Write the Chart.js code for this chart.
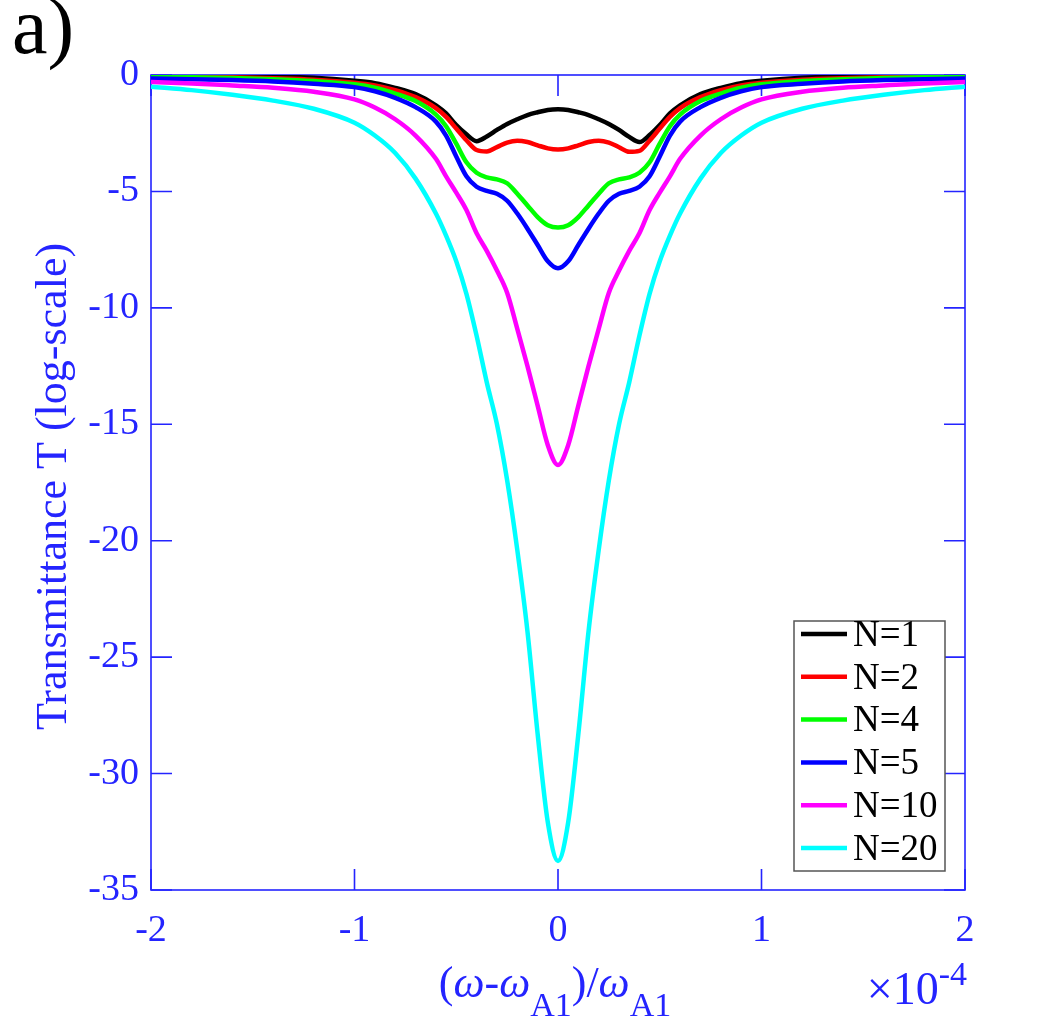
<!DOCTYPE html>
<html>
<head>
<meta charset="utf-8">
<script src="https://cdn.jsdelivr.net/npm/chart.js@4.4.0/dist/chart.umd.min.js"></script>
<style>
html,body{margin:0;padding:0;background:#ffffff;}
#wrap{width:1046px;height:1026px;position:relative;}
</style>
</head>
<body>
<div id="wrap"><canvas id="c" width="1046" height="1026"></canvas></div>
<script>
// ---------- data ----------
const xValues = [-2,-1.8,-1.6,-1.4,-1.2,-1.0,-0.9,-0.8,-0.7,-0.6,-0.55,-0.5,-0.45,-0.4,-0.35,-0.3,-0.25,-0.2,-0.15,-0.1,-0.05,0,
                 0.05,0.1,0.15,0.2,0.25,0.3,0.35,0.4,0.45,0.5,0.55,0.6,0.7,0.8,0.9,1.0,1.2,1.4,1.6,1.8,2];

const seriesLabels = ['N=1','N=2','N=4','N=5','N=10','N=20'];

const tN1 = [-0.02,-0.03,-0.05,-0.07,-0.12,-0.25,-0.35,-0.55,-0.82,-1.3,-1.65,-2.15,-2.55,-2.84,-2.64,-2.36,-2.1,-1.9,-1.72,-1.6,-1.5,-1.47,
             -1.5,-1.6,-1.72,-1.9,-2.1,-2.36,-2.66,-2.88,-2.58,-2.15,-1.65,-1.3,-0.82,-0.55,-0.35,-0.25,-0.12,-0.07,-0.05,-0.03,-0.02];
const tN2 = [-0.05,-0.07,-0.1,-0.14,-0.2,-0.33,-0.45,-0.65,-0.95,-1.42,-1.8,-2.3,-2.8,-3.22,-3.28,-3.1,-2.9,-2.82,-2.88,-3.02,-3.15,-3.2,
             -3.15,-3.02,-2.88,-2.82,-2.9,-3.1,-3.3,-3.26,-2.82,-2.3,-1.8,-1.42,-0.95,-0.65,-0.45,-0.33,-0.2,-0.14,-0.1,-0.07,-0.05];
const tN4 = [-0.08,-0.1,-0.13,-0.18,-0.26,-0.4,-0.55,-0.8,-1.12,-1.7,-2.2,-2.95,-3.75,-4.2,-4.4,-4.48,-4.65,-5.1,-5.6,-6.1,-6.45,-6.55,
             -6.45,-6.1,-5.6,-5.1,-4.65,-4.48,-4.4,-4.2,-3.75,-2.95,-2.2,-1.7,-1.12,-0.8,-0.55,-0.4,-0.26,-0.18,-0.13,-0.1,-0.08];
const tN5 = [-0.15,-0.18,-0.22,-0.28,-0.38,-0.52,-0.7,-0.98,-1.38,-2.0,-2.6,-3.5,-4.35,-4.8,-4.98,-5.1,-5.4,-5.95,-6.6,-7.3,-8.0,-8.3,
             -8.0,-7.3,-6.6,-5.95,-5.4,-5.1,-4.98,-4.8,-4.35,-3.5,-2.6,-2.0,-1.38,-0.98,-0.7,-0.52,-0.38,-0.28,-0.22,-0.18,-0.15];
const tN10 = [-0.3,-0.36,-0.45,-0.55,-0.72,-1.05,-1.4,-1.9,-2.6,-3.6,-4.35,-5.05,-5.8,-6.8,-7.55,-8.4,-9.35,-10.9,-12.5,-14.2,-15.9,-16.75,
              -15.9,-14.2,-12.5,-10.9,-9.35,-8.4,-7.55,-6.8,-5.8,-5.05,-4.35,-3.6,-2.6,-1.9,-1.4,-1.05,-0.72,-0.55,-0.45,-0.36,-0.3];
const tN20 = [-0.5,-0.65,-0.85,-1.1,-1.45,-2.05,-2.6,-3.35,-4.45,-5.95,-6.9,-8.0,-9.4,-11.2,-13.2,-15.0,-17.4,-20.4,-23.9,-28.3,-32.1,-33.75,
              -32.1,-28.3,-23.9,-20.4,-17.4,-15.0,-13.2,-11.2,-9.4,-8.0,-6.9,-5.95,-4.45,-3.35,-2.6,-2.05,-1.45,-1.1,-0.85,-0.65,-0.5];

const seriesValues = [tN1, tN2, tN4, tN5, tN10, tN20];
const seriesColors = ['#000000','#ff0000','#00ff00','#0000ff','#ff00ff','#00ffff'];

const xTicks = [-2,-1,0,1,2];
const yTicks = [0,-5,-10,-15,-20,-25,-30,-35];

// ---------- styles ----------
const AXIS = '#2424ff';
const FONT = '"Liberation Serif", "Times New Roman", serif';
const TICK_LEN = 21;

const datasets = seriesValues.map((vals, i) => ({
  label: seriesLabels[i],
  data: xValues.map((x, j) => ({x: x, y: vals[j]})),
  borderColor: seriesColors[i],
  backgroundColor: seriesColors[i],
  borderWidth: 4.5,
  pointRadius: 0,
  cubicInterpolationMode: 'monotone',
  fill: false,
  order: seriesValues.length - i
}));

const framePlugin = {
  id: 'frame',
  beforeDatasetsDraw(chart) {
    const {ctx, chartArea: a, scales: {x, y}} = chart;
    ctx.save();
    ctx.strokeStyle = AXIS;
    ctx.lineWidth = 1.6;
    ctx.strokeRect(a.left, a.top, a.right - a.left, a.bottom - a.top);
    ctx.beginPath();
    xTicks.forEach(v => {
      const p = x.getPixelForValue(v);
      ctx.moveTo(p, a.bottom); ctx.lineTo(p, a.bottom - TICK_LEN);
      ctx.moveTo(p, a.top); ctx.lineTo(p, a.top + TICK_LEN);
    });
    yTicks.forEach(v => {
      const p = y.getPixelForValue(v);
      ctx.moveTo(a.left, p); ctx.lineTo(a.left + TICK_LEN, p);
      ctx.moveTo(a.right, p); ctx.lineTo(a.right - TICK_LEN, p);
    });
    ctx.stroke();
    ctx.restore();
  },
  afterDraw(chart) {
    const {ctx, chartArea: a} = chart;
    ctx.save();
    // panel label
    ctx.fillStyle = '#000';
    ctx.font = '80px ' + FONT;
    ctx.textAlign = 'left';
    ctx.textBaseline = 'alphabetic';
    ctx.fillText('a)', 12, 53);

    // y title
    ctx.fillStyle = AXIS;
    ctx.save();
    ctx.translate(54, (a.top + a.bottom) / 2 + 4);
    ctx.rotate(-Math.PI / 2);
    ctx.font = '44px ' + FONT;
    ctx.textAlign = 'center';
    ctx.textBaseline = 'middle';
    ctx.fillText('Transmittance T (log-scale)', 0, 0);
    ctx.restore();

    // x title with subscripts
    const main = '44px ' + FONT, mainIt = 'italic 44px ' + FONT, sub = '34px ' + FONT;
    const parts = [
      {t: '(', f: main, dy: 0}, {t: 'ω', f: mainIt, dy: 0}, {t: '-', f: main, dy: 0},
      {t: 'ω', f: mainIt, dy: 0}, {t: 'A1', f: sub, dy: 19},
      {t: ')/', f: main, dy: 0}, {t: 'ω', f: mainIt, dy: 0}, {t: 'A1', f: sub, dy: 19}
    ];
    let total = 0;
    parts.forEach(p => { ctx.font = p.f; p.w = ctx.measureText(p.t).width; total += p.w; });
    let cx = 555 - total / 2;
    const base = 997;
    ctx.textAlign = 'left';
    ctx.textBaseline = 'alphabetic';
    parts.forEach(p => { ctx.font = p.f; ctx.fillText(p.t, cx, base + p.dy); cx += p.w; });

    // exponent label
    ctx.font = '46px ' + FONT;
    const w1 = ctx.measureText('×10').width;
    ctx.font = '34px ' + FONT;
    const w2 = ctx.measureText('-4').width;
    let ex = a.right + 2 - (w1 + w2);
    ctx.font = '46px ' + FONT;
    ctx.fillText('×10', ex, 1004);
    ctx.font = '34px ' + FONT;
    ctx.fillText('-4', ex + w1, 985);

    // legend
    const L = {left: 794, top: 621, w: 151, h: 250, row0: 634, step: 42.8, l0: 801, l1: 847, tx: 853};
    ctx.fillStyle = '#fff';
    ctx.fillRect(L.left, L.top, L.w, L.h);
    ctx.strokeStyle = '#555';
    ctx.lineWidth = 1.5;
    ctx.strokeRect(L.left, L.top, L.w, L.h);
    chart.data.datasets.forEach((d, i) => {
      const yy = L.row0 + i * L.step;
      ctx.strokeStyle = d.borderColor;
      ctx.lineWidth = 4.5;
      ctx.beginPath(); ctx.moveTo(L.l0, yy); ctx.lineTo(L.l1, yy); ctx.stroke();
      ctx.fillStyle = '#000';
      ctx.font = '37px ' + FONT;
      ctx.textAlign = 'left';
      ctx.textBaseline = 'middle';
      ctx.fillText(d.label, L.tx, yy + 2);
    });
    ctx.restore();
  }
};

new Chart(document.getElementById('c'), {
  type: 'line',
  data: {datasets: datasets},
  options: {
    responsive: false,
    animation: false,
    devicePixelRatio: 1,
    layout: {padding: {left: 0, top: 75, right: 81, bottom: 0}},
    plugins: {legend: {display: false}, tooltip: {enabled: false}, title: {display: false}},
    scales: {
      x: {
        type: 'linear', min: -2, max: 2,
        afterBuildTicks: s => { s.ticks = xTicks.map(v => ({value: v})); },
        afterFit: s => { s.height = 136; },
        grid: {display: false, drawTicks: false},
        border: {display: false},
        ticks: {color: AXIS, font: {family: FONT, size: 38}, padding: 18, maxRotation: 0,
                callback: v => String(v)}
      },
      y: {
        type: 'linear', min: -35, max: 0,
        afterBuildTicks: s => { s.ticks = yTicks.map(v => ({value: v})); },
        afterFit: s => { s.width = 151; },
        grid: {display: false, drawTicks: false},
        border: {display: false},
        ticks: {color: AXIS, font: {family: FONT, size: 38}, padding: 12,
                callback: v => String(v)}
      }
    }
  },
  plugins: [framePlugin]
});
</script>
</body>
</html>
